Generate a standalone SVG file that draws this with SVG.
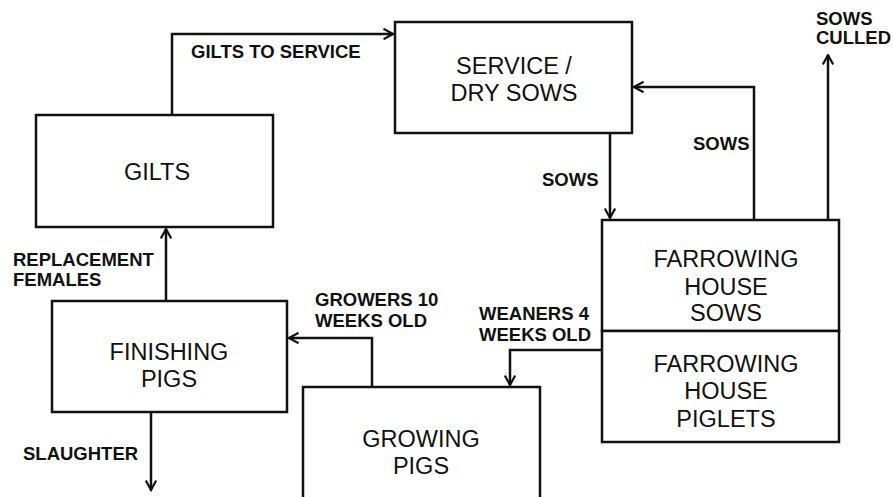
<svg xmlns="http://www.w3.org/2000/svg" width="893" height="497" viewBox="0 0 893 497">
<style>
.box{fill:#fff;stroke:#111;stroke-width:2.5}
.nt{font-family:"Liberation Sans",Arial,sans-serif;font-size:23.5px;fill:#111;text-anchor:middle}
.lb{font-family:"Liberation Sans",Arial,sans-serif;font-size:18.5px;font-weight:bold;fill:#111}
.edge{fill:none;stroke:#111;stroke-width:2.5;marker-end:url(#arr)}
</style>
<defs>
<marker id="arr" viewBox="0 0 12 12" refX="10.5" refY="6" markerWidth="12" markerHeight="12" markerUnits="userSpaceOnUse" orient="auto">
<path d="M1,0.8 L10.5,6 L1,11.2" fill="none" stroke="#111" stroke-width="2.2"/>
</marker>
</defs>
<rect width="893" height="497" fill="#fff"/>
<g id="connectors">
<path class="edge" d="M172,115 V34 H393"/>
<path class="edge" d="M610,133 V218"/>
<path class="edge" d="M754,220 V87 H634"/>
<path class="edge" d="M828,220 V55"/>
<path class="edge" d="M601,350 H510 V385"/>
<path class="edge" d="M372,387 V338 H289"/>
<path class="edge" d="M166,301 V229"/>
<path class="edge" d="M151,412 V490"/>
<text class="lb" x="191" y="58">GILTS TO SERVICE</text>
<text class="lb" x="542" y="186">SOWS</text>
<text class="lb" x="693" y="150">SOWS</text>
<text class="lb" x="816" y="25">SOWS</text>
<text class="lb" x="816" y="44">CULLED</text>
<text class="lb" x="479" y="320">WEANERS 4</text>
<text class="lb" x="479" y="341">WEEKS OLD</text>
<text class="lb" x="315" y="306">GROWERS 10</text>
<text class="lb" x="315" y="327">WEEKS OLD</text>
<text class="lb" x="13" y="266">REPLACEMENT</text>
<text class="lb" x="13" y="286">FEMALES</text>
<text class="lb" x="23" y="460">SLAUGHTER</text>
</g>
<g id="gilts">
<rect class="box" x="36" y="115" width="237" height="112"/>
<text class="nt" x="157" y="180">GILTS</text>
</g>
<g id="service">
<rect class="box" x="395" y="22" width="237" height="111"/>
<text class="nt" x="514" y="74">SERVICE /</text>
<text class="nt" x="514" y="101">DRY SOWS</text>
</g>
<g id="farrowing-sows">
<rect class="box" x="602" y="220" width="237" height="111"/>
<text class="nt" x="726" y="267">FARROWING</text>
<text class="nt" x="726" y="295">HOUSE</text>
<text class="nt" x="726" y="321">SOWS</text>
</g>
<g id="farrowing-piglets">
<rect class="box" x="602" y="331" width="237" height="111"/>
<text class="nt" x="726" y="372">FARROWING</text>
<text class="nt" x="726" y="399">HOUSE</text>
<text class="nt" x="726" y="427">PIGLETS</text>
</g>
<g id="finishing">
<rect class="box" x="52" y="301" width="235" height="111"/>
<text class="nt" x="169" y="360">FINISHING</text>
<text class="nt" x="169" y="387">PIGS</text>
</g>
<g id="growing">
<rect class="box" x="303" y="387" width="237" height="120"/>
<text class="nt" x="421" y="447">GROWING</text>
<text class="nt" x="421" y="474">PIGS</text>
</g>
</svg>
